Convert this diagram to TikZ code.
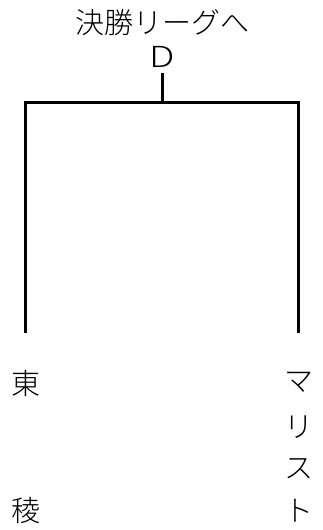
\documentclass[tikz,border=0pt]{standalone}
\usepackage{fontspec}
\setmainfont{Noto Sans CJK JP}[UprightFont={* Light}]
\newfontfamily\latinfont{Noto Sans CJK JP}[UprightFont={* Light},FakeStretch=1.3]
\usepackage{tikz}
\usetikzlibrary{positioning}

\begin{document}
\begin{tikzpicture}
		[x=1pt,y=1pt,font=\fontsize{29}{32}\selectfont,
		main node/.style={draw=none,fill=none,inner sep=0pt},
		bracket/.style={line width=3pt,line join=miter}]
		\useasboundingbox (0,0) rectangle (322,530);
		
		\node[main node] (title) at (162,507) {決勝リーグへ};
		\node[main node] (d) at (162,473) {\latinfont D};
		
		\coordinate (stem) at (162,457);
		\coordinate (join) at (162,427);
		\coordinate (l) at (25,197);
		\coordinate (r) at (298,197);
		
		\node[main node] (l1) at (26,147) {東};
		\node[main node] (l2) at (26,19) {稜};
		
		\node[main node] (r1) at (299,148) {マ};
		\node[main node] (r2) at (299,103) {リ};
		\node[main node] (r3) at (299,61) {ス};
		\node[main node] (r4) at (299,19) {ト};
		
		\draw[bracket] (stem) -- (join);
		\draw[bracket] (l) |- (join) -| (r);
		\end{tikzpicture}
\end{document}
